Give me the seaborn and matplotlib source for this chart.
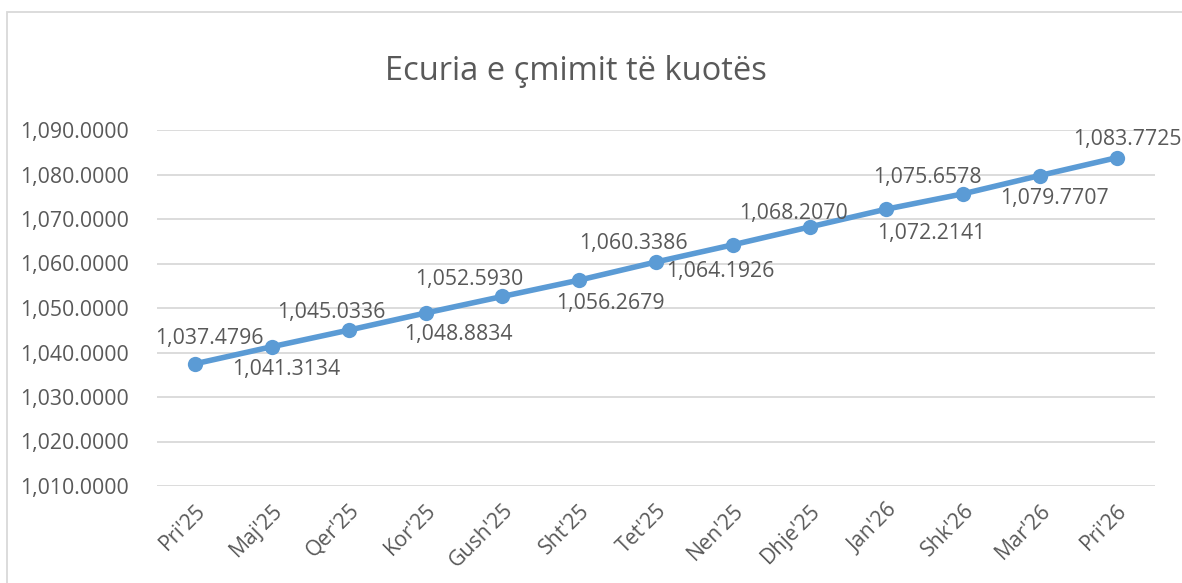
import matplotlib
matplotlib.use('Agg')
import matplotlib.pyplot as plt
import seaborn as sns
import pandas as pd
from matplotlib.patches import Rectangle

# Data
months = ["Pri'25", "Maj'25", "Qer'25", "Kor'25", "Gush'25", "Sht'25", "Tet'25",
          "Nen'25", "Dhje'25", "Jan'26", "Shk'26", "Mar'26", "Pri'26"]
prices = [1037.4796, 1041.3134, 1045.0336, 1048.8834, 1052.5930, 1056.2679, 1060.3386,
          1064.1926, 1068.2070, 1072.2141, 1075.6578, 1079.7707, 1083.7725]

# label offsets in pixels (dx, dy) relative to each point
label_dx = [14, 14, -18, 33, -33, 31, -23, -12, -16, 45, -36, 15, 11]
label_dy = [25, -23, 18, -22, 17, -23, 18, -27, 13, -24, 16, -23, 18]

df = pd.DataFrame({'month': months, 'price': prices})
df['pos'] = range(len(df))

sns.set_style('white')
plt.rcParams['font.family'] = ['Open Sans', 'DejaVu Sans']

text_color = '#595959'
grid_color = '#D9D9D9'
blue = '#5B9BD5'

fig = plt.figure(figsize=(11.82, 5.83), dpi=100)
ax = fig.add_axes([157 / 1182, 97 / 583, 998 / 1182, 356 / 583])

sns.lineplot(data=df, x='pos', y='price', ax=ax, color=blue, linewidth=4,
             marker='o', markersize=11, markeredgewidth=0)

for i, (x, y) in enumerate(zip(df['pos'], df['price'])):
    ax.annotate(f'{y:,.4f}', (x, y), xytext=(label_dx[i], label_dy[i]),
                textcoords='offset pixels', ha='center', va='center',
                fontsize=15.3, color=text_color)

ax.set_xlim(-0.5, len(months) - 0.5)
ax.set_ylim(1010, 1090)
ax.set_yticks(range(1010, 1091, 10))
ax.set_yticklabels([f'{v:,.4f}' for v in range(1010, 1091, 10)])
ax.set_xticks(df['pos'])
ax.set_xticklabels(months, rotation=45, ha='right', rotation_mode='anchor')
ax.tick_params(axis='both', length=0, labelsize=15.3, labelcolor=text_color)
ax.tick_params(axis='y', pad=20)
ax.tick_params(axis='x', pad=10)
ax.yaxis.grid(True, color=grid_color, linewidth=1.3)
ax.set_axisbelow(True)
for s in ax.spines.values():
    s.set_visible(False)
ax.set_xlabel('')
ax.set_ylabel('')

fig.text(576 / 1182, 1 - 72 / 583, 'Ecuria e çmimit të kuotës', ha='center', va='center',
         fontsize=23.5, color=text_color)

# chart border
fig.patches.append(Rectangle((7 / 1182, -0.1), 1.2, 1 - 12 / 583 + 0.1,
                             transform=fig.transFigure, fill=False,
                             edgecolor=grid_color, linewidth=1.3))

fig.savefig('out.png', dpi=100)
